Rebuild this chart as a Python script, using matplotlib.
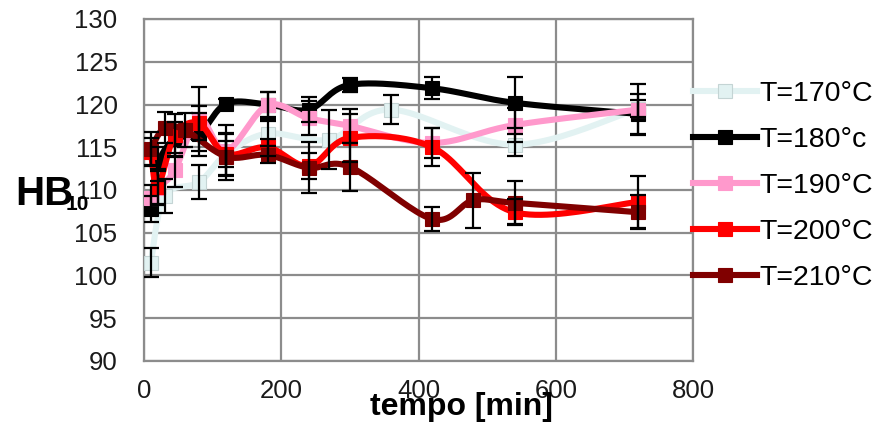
import matplotlib.pyplot as plt
import numpy as np
from matplotlib.lines import Line2D

plt.rcParams['font.family'] = ['Liberation Sans', 'DejaVu Sans']

# data (time in minutes, hardness HB10)
labels = ['T=170°C', 'T=180°c', 'T=190°C', 'T=200°C', 'T=210°C']
colors = ['#e2f2f2', '#000000', '#ff99cc', '#ff0000', '#800000']
edges = ['#c4d4d4', '#000000', '#ff99cc', '#ff0000', '#800000']

t170 = [10, 30, 80, 120, 180, 270, 360, 540, 720]
hb170 = [101.5, 109.3, 110.9, 114.2, 116.6, 115.9, 119.4, 115.3, 119.5]
err170 = [1.7, 2.0, 2.0, 1.5, 1.5, 3.5, 1.7, 1.3, 1.0]

t180 = [10, 20, 45, 80, 120, 180, 240, 300, 420, 540, 720]
hb180 = [107.8, 113.0, 116.0, 116.5, 120.1, 120.0, 119.4, 122.3, 121.9, 120.2, 118.9]
err180 = [1.5, 2.0, 2.0, 2.5, 0.6, 1.5, 1.5, 0.8, 1.3, 3.0, 2.3]

t190 = [10, 20, 45, 80, 120, 180, 240, 300, 420, 540, 720]
hb190 = [109.1, 110.2, 112.3, 118.3, 114.6, 119.9, 118.4, 117.5, 115.5, 117.6, 119.4]
err190 = [1.5, 2.0, 2.0, 3.7, 3.0, 1.6, 2.0, 2.0, 1.8, 2.0, 3.0]

t200 = [10, 20, 45, 80, 120, 180, 240, 300, 420, 540, 720]
hb200 = [114.5, 110.4, 116.4, 117.8, 114.2, 115.0, 112.8, 116.1, 115.0, 107.4, 108.6]
err200 = [1.6, 2.0, 2.5, 2.0, 2.5, 1.0, 1.5, 2.8, 2.2, 1.5, 3.0]

t210 = [10, 30, 60, 120, 180, 240, 300, 420, 480, 540, 720]
hb210 = [114.8, 117.3, 117.0, 113.9, 114.1, 112.6, 112.7, 106.6, 108.8, 108.5, 107.4]
err210 = [2.0, 1.8, 2.0, 2.7, 1.0, 3.0, 2.8, 1.4, 3.2, 2.5, 2.0]

series = [(t170, hb170, err170), (t180, hb180, err180), (t190, hb190, err190),
          (t200, hb200, err200), (t210, hb210, err210)]


def smooth(x, y, sx=0.6855, sy=8.55, n=24):
    # Excel-style smoothed line: cubic bezier through the points
    p = np.column_stack([np.asarray(x, float) * sx, np.asarray(y, float) * sy])
    out = [p[0]]
    s = np.linspace(0, 1, n)[1:, None]
    for i in range(len(p) - 1):
        p0 = p[i - 1] if i > 0 else p[i]
        p1, p2 = p[i], p[i + 1]
        p3 = p[i + 2] if i + 2 < len(p) else p[i + 1]
        c1 = p1 + (p2 - p0) / 6
        c2 = p2 - (p3 - p1) / 6
        seg = ((1 - s) ** 3) * p1 + 3 * ((1 - s) ** 2) * s * c1 + 3 * (1 - s) * s ** 2 * c2 + s ** 3 * p2
        out.extend(seg)
    out = np.array(out)
    return out[:, 0] / sx, out[:, 1] / sy


fig = plt.figure(figsize=(8.77, 4.22), dpi=100)
ax = fig.add_axes([144 / 877, 1 - 361 / 422, 549 / 877, 342 / 422])

for k, (t, hb, er) in enumerate(series):
    z = 3 + k
    xs, ys = smooth(t, hb)
    ax.plot(xs, ys, color=colors[k], lw=4.4, zorder=z, solid_capstyle='round')
    ax.plot(t, hb, ls='none', marker='s', ms=9.5, color=colors[k],
            markeredgecolor=edges[k], markeredgewidth=0.8, zorder=z)
    ax.errorbar(t, hb, yerr=er, fmt='none', ecolor='black', elinewidth=1.6,
                capsize=5.5, capthick=1.6, zorder=10)

ax.set_xlim(0, 800)
ax.set_ylim(90, 130)
ax.set_xticks([0, 200, 400, 600, 800])
ax.set_yticks(np.arange(90, 131, 5))
ax.grid(True, color='#8c8c8c', lw=1.6)
ax.set_axisbelow(True)
for sp in ax.spines.values():
    sp.set_color('#8c8c8c')
    sp.set_linewidth(1.6)
ax.tick_params(axis='both', length=0, labelsize=18.5, colors='#1a1a1a')
ax.tick_params(axis='y', pad=19)
ax.tick_params(axis='x', pad=13)

# axis titles sit where the reference puts them (x title is off-centre)
fig.text(461 / 877, 1 - 407 / 422, 'tempo [min]', fontsize=23, fontweight='bold',
         ha='center', va='center')
fig.text(15 / 877, 1 - 194 / 422, 'HB', fontsize=29, fontweight='bold', va='center', ha='left')
fig.text(66 / 877, 1 - 205 / 422, '10', fontsize=15, fontweight='bold', va='center', ha='left')

handles = [Line2D([], [], color=colors[k], lw=4.4, marker='s', ms=9.5,
                  markeredgecolor=edges[k], markeredgewidth=0.8) for k in range(5)]
fig.legend(handles, labels, loc='upper left', bbox_to_anchor=(693 / 877, 1 - 81 / 422),
           frameon=False, fontsize=20.5, handlelength=2.25, handletextpad=0.08,
           labelspacing=0.7, borderpad=0, borderaxespad=0)

fig.savefig('out.png', dpi=100)
